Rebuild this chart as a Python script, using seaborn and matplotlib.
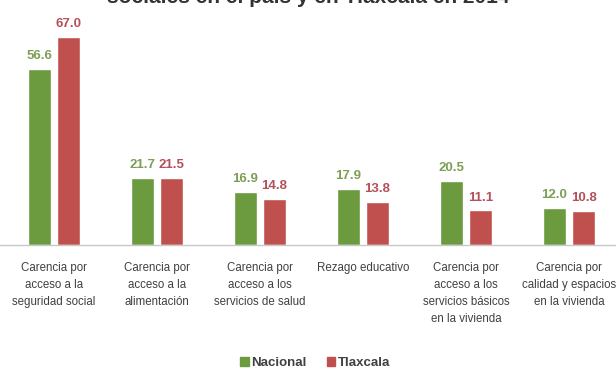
import matplotlib
matplotlib.use('Agg')
import matplotlib.pyplot as plt
import numpy as np
import pandas as pd
import seaborn as sns

# Data
categories = [
    'Carencia por\nacceso a la\nseguridad social',
    'Carencia por\nacceso a la\nalimentación',
    'Carencia por\nacceso a los\nservicios de salud',
    'Rezago educativo',
    'Carencia por\nacceso a los\nservicios básicos\nen la vivienda',
    'Carencia por\ncalidad y espacios\nen la vivienda',
]
nacional = [56.6, 21.7, 16.9, 17.9, 20.5, 12.0]
tlaxcala = [67.0, 21.5, 14.8, 13.8, 11.1, 10.8]
series = ['Nacional', 'Tlaxcala']

bar_colors = ['#6b9a3f', '#c0504d']
label_colors = ['#7d9e55', '#b4505a']
text_gray = '#404040'

df = pd.DataFrame({
    'categoria': categories * 2,
    'serie': [series[0]] * len(categories) + [series[1]] * len(categories),
    'valor': nacional + tlaxcala,
})

sns.set_style('white')
plt.rcParams['font.family'] = ['Liberation Sans', 'DejaVu Sans']

fig = plt.figure(figsize=(6.16, 3.71), dpi=100)
ax = fig.add_axes([0.0, 0.3396, 1.0, 0.654])

sns.barplot(data=df, x='categoria', y='valor', hue='serie', hue_order=series,
            palette=bar_colors, width=0.563, gap=0.2, saturation=1, ax=ax)

for cont, col in zip(ax.containers, label_colors):
    ax.bar_label(cont, fmt='%.1f', padding=5, color=col, fontsize=9.5,
                 fontweight='bold')

ax.set_xlim(-0.524, 5.456)
ax.set_ylim(0, 78)
ax.set_xlabel('')
ax.set_ylabel('')
ax.set_yticks([])
ax.tick_params(axis='x', length=0, pad=12, labelsize=8.3, labelcolor=text_gray)
for lab in ax.get_xticklabels():
    lab.set_linespacing(1.55)
    lab.set_va('top')

for side in ['top', 'left', 'right']:
    ax.spines[side].set_visible(False)
ax.spines['bottom'].set_color('#c8c8c8')
ax.spines['bottom'].set_linewidth(1.0)

ax.get_legend().remove()
handles = [plt.Rectangle((0, 0), 1, 1, color=c) for c in bar_colors]
fig.legend(handles, series, loc='center', bbox_to_anchor=(0.512, 0.022),
           ncol=2, frameon=False, handlelength=0.65, handleheight=0.65,
           handletextpad=0.2, columnspacing=1.5,
           prop={'weight': 'bold', 'size': 9.5}, labelcolor=text_gray)

fig.text(0.5, 0.991, 'sociales en el país y en Tlaxcala en 2014',
         ha='center', va='baseline', fontsize=15, fontweight='bold',
         color='#333333')

fig.savefig('out.png', dpi=100, facecolor='white')
